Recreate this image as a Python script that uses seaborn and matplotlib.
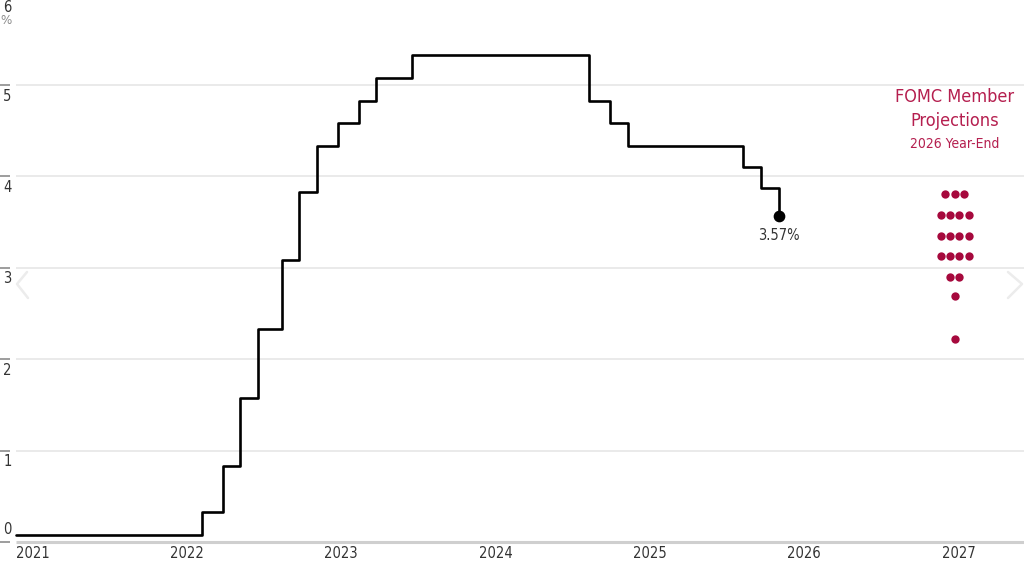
import pandas as pd
import matplotlib
matplotlib.use("Agg")
import matplotlib.pyplot as plt
import matplotlib.transforms as mtransforms
from matplotlib.lines import Line2D
import seaborn as sns

# Effective fed funds rate, step changes after each FOMC decision
rate_dates = ["2021-01-01", "2022-03-17", "2022-05-05", "2022-06-16", "2022-07-28",
              "2022-09-22", "2022-11-03", "2022-12-15", "2023-02-02", "2023-03-23",
              "2023-05-04", "2023-07-27", "2024-09-19", "2024-11-08", "2024-12-19",
              "2025-09-18", "2025-10-30", "2025-12-11"]
rate_values = [0.08, 0.33, 0.83, 1.58, 2.33, 3.08, 3.83, 4.33, 4.58, 4.83,
               5.08, 5.33, 4.83, 4.58, 4.33, 4.10, 3.87, 3.57]
last_label = "3.57%"

# FOMC dot plot, 2026 year-end (level, number of members)
dot_levels = [3.81, 3.58, 3.35, 3.13, 2.90, 2.69, 2.22]
dot_counts = [3, 4, 4, 4, 2, 1, 1]
dot_date = "2027-02-01"

year_ticks = [2021, 2022, 2023, 2024, 2025, 2026, 2027]
y_ticks = [0, 1, 2, 3, 4, 5, 6]

RED_TEXT = "#b51f4f"
RED_DOT = "#a6093d"
TXT = "#333333"

sns.set_theme(style="white")
plt.rcParams["font.family"] = ["Liberation Sans Narrow", "DejaVu Sans"]
plt.rcParams["font.stretch"] = "condensed"

fig = plt.figure(figsize=(10.24, 5.70), dpi=100)
ax = fig.add_axes([0, 28 / 570, 1, 542 / 570])

t0 = pd.Timestamp("2021-01-01")
px_per_year = 154.3
x_left = t0 - pd.Timedelta(days=16 / px_per_year * 365.25)
x_right = t0 + pd.Timedelta(days=(1024 - 16) / px_per_year * 365.25)

# gridlines and baseline start at 2021
for y in y_ticks[1:]:
    ax.hlines(y, t0, x_right, color="#e8e8e8", lw=1.3, zorder=0)
ax.hlines(0, t0, x_right, color="#cfcfcf", lw=2.2, zorder=1, clip_on=False)

df = pd.DataFrame({"date": pd.to_datetime(rate_dates), "rate": rate_values})
sns.lineplot(data=df, x="date", y="rate", drawstyle="steps-post", color="black",
             lw=1.9, ax=ax, zorder=3)
ax.scatter(df["date"].iloc[-1], df["rate"].iloc[-1], s=55, color="black", zorder=4)
ax.annotate(last_label, (df["date"].iloc[-1], df["rate"].iloc[-1]),
            xytext=(0, -9), textcoords="offset points", ha="center", va="top",
            fontsize=10.5, color=TXT)

# dot plot
center = pd.Timestamp(dot_date)
spacing = pd.Timedelta(days=9.4 / px_per_year * 365.25)
xs, ys = [], []
for lvl, n in zip(dot_levels, dot_counts):
    for i in range(n):
        xs.append(center + spacing * (i - (n - 1) / 2))
        ys.append(lvl)
ax.scatter(xs, ys, s=36, color=RED_DOT, linewidths=0, zorder=3)

ax.text(center, 4.87, "FOMC Member", ha="center", va="center", fontsize=13, color=RED_TEXT)
ax.text(center, 4.61, "Projections", ha="center", va="center", fontsize=13, color=RED_TEXT)
ax.text(center, 4.35, "2026 Year-End", ha="center", va="center", fontsize=10, color=RED_TEXT)

# axes styling
for s in ax.spines.values():
    s.set_visible(False)
ax.set_xlabel("")
ax.set_ylabel("")
ax.set_xticks([pd.Timestamp(f"{y}-01-01") for y in year_ticks])
ax.set_xticklabels([str(y) for y in year_ticks], ha="left", fontsize=10.5, color=TXT)
ax.tick_params(axis="x", length=0, pad=3)
ax.set_yticks(y_ticks)
ax.set_yticklabels([])
ax.tick_params(axis="y", direction="in", length=7.2, width=1.2, color="#8c8c8c", left=True)

# limits last: set_yticks would otherwise widen them
ax.set_xlim(x_left, x_right)
ax.set_ylim(0, 542 / 91.4)

ytrans = mtransforms.blended_transform_factory(ax.transAxes, ax.transData)
for y in y_ticks:
    if y == 0:
        ax.text(0.003, 0.06, "0", transform=ytrans, ha="left", va="bottom", fontsize=10.5,
                color=TXT)
    elif y == 6:
        ax.text(0.003, 1.0, "6", transform=ax.transAxes, ha="left", va="top",
                fontsize=10.5, color=TXT)
        ax.text(0.0, 0.975, "%", transform=ax.transAxes, ha="left", va="top",
                fontsize=9.5, color="#8a8a8a")
    else:
        ax.text(0.003, y - 0.04, str(y), transform=ytrans, ha="left", va="top",
                fontsize=10.5, color=TXT)

# faint carousel chevrons
H = 570
for pts in ([(27, 272), (17, 284), (28, 298)], [(1008, 272), (1022, 284), (1008, 298)]):
    fig.add_artist(Line2D([p[0] / 1024 for p in pts], [1 - p[1] / H for p in pts],
                          color="#ececec", lw=1.8, transform=fig.transFigure))

fig.savefig("out.png", dpi=100)
